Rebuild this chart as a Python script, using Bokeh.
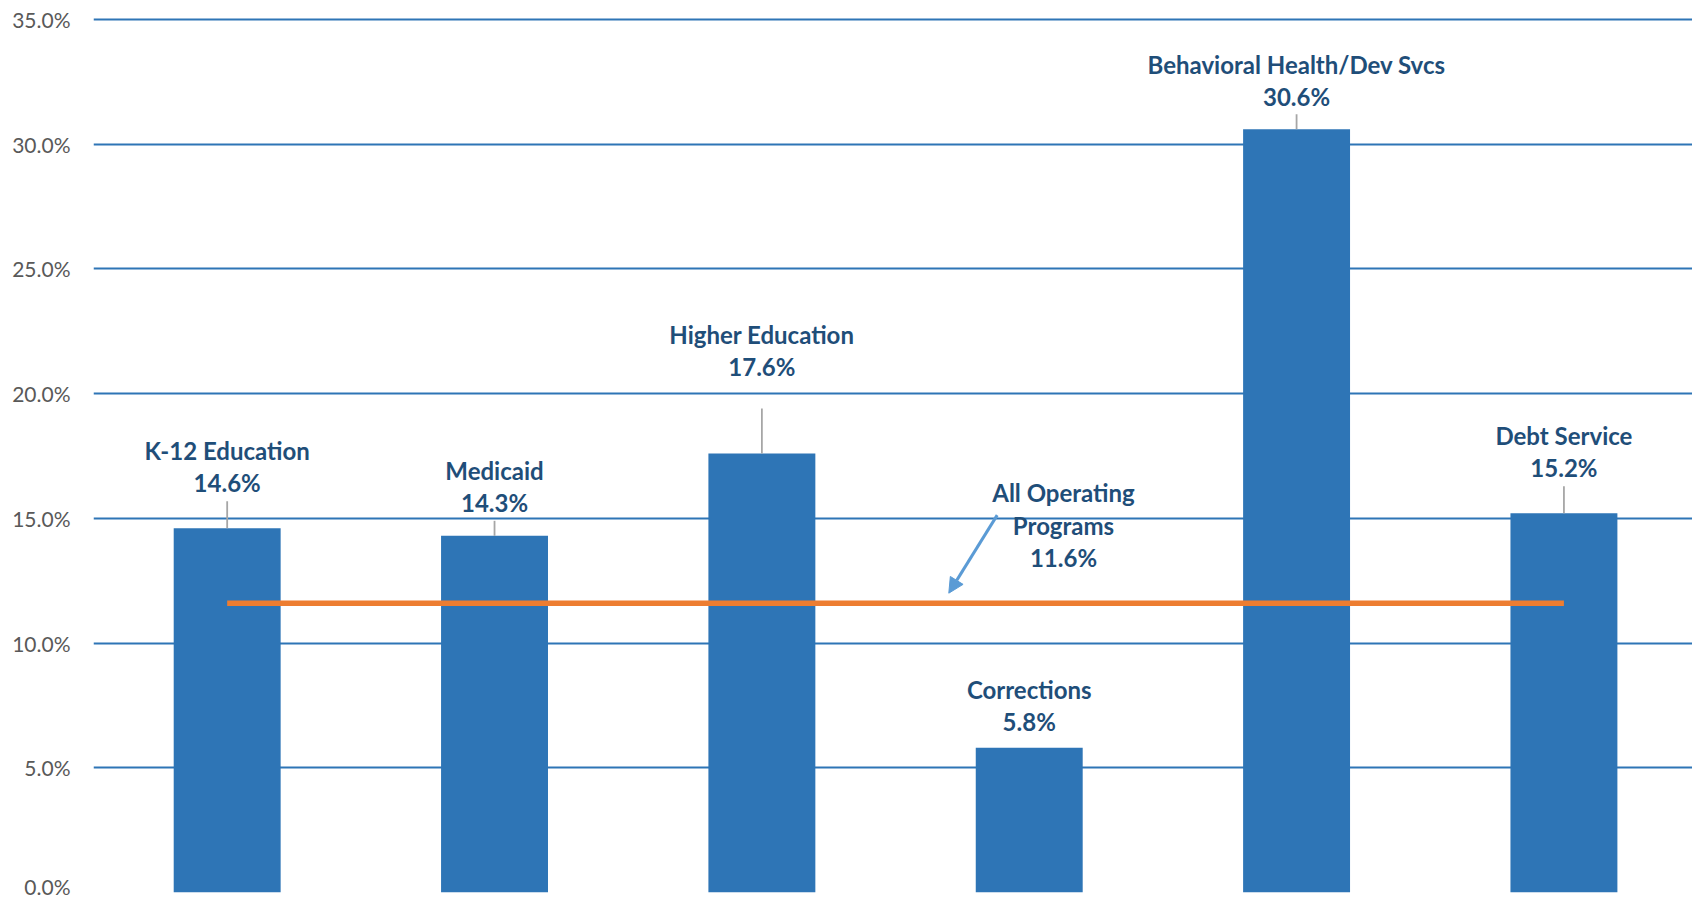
from bokeh.plotting import figure
from bokeh.models import Range1d, FixedTicker, PrintfTickFormatter, Arrow, NormalHead, ColumnDataSource
from bokeh.core.properties import value
from bokeh.embed import file_html
from bokeh.resources import INLINE

# ---- data ----
categories = ["K-12 Education", "Medicaid", "Higher Education", "Corrections",
              "Behavioral Health/Dev Svcs", "Debt Service"]
growth = [14.6, 14.3, 17.6, 5.8, 30.6, 15.2]
all_programs_label = ["All Operating", "Programs", "11.6%"]
all_programs = 11.6
y_ticks = [0, 5, 10, 15, 20, 25, 30, 35]

# ---- label placement (styles, screen px above bar top) ----
value_off = [46, 33, 87, 26, 33, 46]
name_gap = 32
leader_len = [27, 15, 45, 0, 15, 27]

W, H = 1692, 898
left, top, bottom = 93, 17, 6
plot_h = H - top - bottom
px = 35 / 873.0
y_max = 35 + 2 * px

xs = [i + 0.5 for i in range(len(categories))]

p = figure(width=W, height=H, output_backend="svg", toolbar_location=None,
           x_range=Range1d(0, (W - left) / 267.35), y_range=Range1d(0, y_max),
           min_border_left=left, min_border_right=0, min_border_top=top,
           min_border_bottom=bottom)
p.outline_line_color = None
p.background_fill_color = "white"
p.border_fill_color = "white"
p.xaxis.visible = False
p.xgrid.visible = False

ax = p.yaxis[0]
ax.ticker = FixedTicker(ticks=y_ticks)
ax.formatter = PrintfTickFormatter(format="%.1f%%")
ax.axis_line_color = None
ax.major_tick_line_color = None
ax.minor_tick_line_color = None
ax.major_tick_out = 0
ax.major_tick_in = 0
ax.major_label_standoff = 23
ax.major_label_text_font = "Lato"
ax.major_label_text_font_size = "21px"
ax.major_label_text_color = "#595959"

p.ygrid.ticker = FixedTicker(ticks=y_ticks)
p.ygrid.grid_line_color = "#2E75B6"
p.ygrid.grid_line_width = 1.8

src = ColumnDataSource(dict(
    x=xs, top=growth, cat=categories,
    val=["%.1f%%" % v for v in growth],
    voff=[-o for o in value_off],
    noff=[-(o + name_gap) for o in value_off],
))

p.vbar(x="x", top="top", width=0.40, source=src, fill_color="#2E75B6", line_color=None)

# leader lines
lsrc = ColumnDataSource(dict(
    x=[x for x, l in zip(xs, leader_len) if l > 0],
    y0=[v for v, l in zip(growth, leader_len) if l > 0],
    y1=[v + l * px for v, l in zip(growth, leader_len) if l > 0],
))
p.segment(x0="x", y0="y0", x1="x", y1="y1", source=lsrc, line_color="#A6A6A6", line_width=1.8)

# average line
p.line(x=[xs[0], xs[-1]], y=[all_programs, all_programs], line_color="#ED7D31", line_width=5.5)

lab_color = "#1F4E79"
p.text(x="x", y="top", text="val", y_offset="voff", source=src,
       text_font=value("Lato"), text_font_style="bold", text_font_size="24px",
       text_color=lab_color, text_align="center", text_baseline="middle")
p.text(x="x", y="top", text="cat", y_offset="noff", source=src,
       text_font=value("Lato"), text_font_style="bold", text_font_size="24px",
       text_color=lab_color, text_align="center", text_baseline="middle")

# All operating programs annotation
ax_x = (1063 - left) / 267.35
p.text(x=[ax_x] * 3, y=[all_programs] * 3, text=all_programs_label,
       y_offset=[-111, -77.5, -46],
       text_font=value("Lato"), text_font_style="bold", text_font_size="24px",
       text_color=lab_color, text_align="center", text_baseline="middle")

p.add_layout(Arrow(end=NormalHead(size=15, fill_color="#5B9BD5", line_color="#5B9BD5"),
                   x_start=(996.7 - left) / 267.35, y_start=all_programs + 88 * px,
                   x_end=(948.3 - left) / 267.35, y_end=all_programs + 10 * px,
                   line_color="#5B9BD5", line_width=3))

open("out.html", "w").write(file_html(p, INLINE))
